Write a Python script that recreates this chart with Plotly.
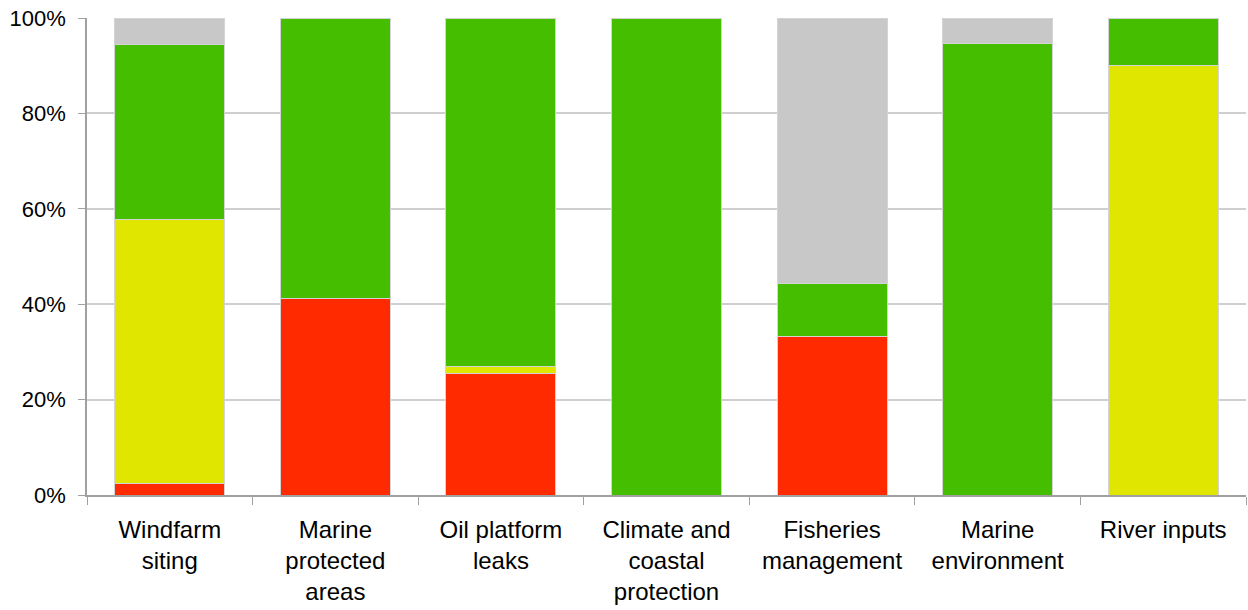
import plotly.graph_objects as go

categories = ["Windfarm<br>siting", "Marine<br>protected<br>areas", "Oil platform<br>leaks",
              "Climate and<br>coastal<br>protection", "Fisheries<br>management",
              "Marine<br>environment", "River inputs"]
red_vals = [2.4, 41.3, 25.4, 0, 33.3, 0, 0]
yellow_vals = [55.4, 0, 1.6, 0, 0, 0, 90.0]
green_vals = [36.6, 58.7, 73.0, 100.0, 11.1, 94.7, 10.0]
gray_vals = [5.6, 0, 0, 0, 55.6, 5.3, 0]

series = [
    ("Red", red_vals, "#FF2A00"),
    ("Yellow", yellow_vals, "#E1E600"),
    ("Green", green_vals, "#45BE00"),
    ("Gray", gray_vals, "#C8C8C8"),
]

fig = go.Figure()
for name, vals, color in series:
    fig.add_trace(go.Bar(
        x=categories, y=vals, name=name,
        marker=dict(color=color, line=dict(color="#D4D4D4", width=1)),
    ))

fig.update_layout(
    barmode="stack",
    bargap=0.335,
    width=1248, height=610,
    margin=dict(l=87, r=2, t=18, b=115),
    plot_bgcolor="white", paper_bgcolor="white",
    showlegend=False,
    font=dict(family="Liberation Sans, Arial, sans-serif", color="#000000"),
)
fig.update_xaxes(
    type="category",
    automargin=False,
    tickson="boundaries",
    ticks="outside", ticklen=8, tickcolor="#A0A0A0", tickwidth=1,
    showline=True, linecolor="#A0A0A0", linewidth=1.5,
    showgrid=False,
    tickfont=dict(size=24),
    tickangle=0,
    ticklabelstandoff=12,
    ticklabeloverflow="allow",
)
fig.update_yaxes(
    automargin=False,
    range=[0, 100],
    tickvals=[0, 20, 40, 60, 80, 100],
    ticktext=["0%", "20%", "40%", "60%", "80%", "100%"],
    ticks="outside", ticklen=7, tickcolor="#A0A0A0",
    showline=True, linecolor="#A0A0A0", linewidth=1.5,
    showgrid=True, gridcolor="#CFCFCF", gridwidth=1.5,
    zeroline=False,
    tickfont=dict(size=22),
    ticklabelstandoff=8,
    ticklabeloverflow="allow",
)
fig.write_html("out.html", config={"displayModeBar": False},
               post_script="document.body.style.margin='0';document.body.style.overflow='hidden';")
